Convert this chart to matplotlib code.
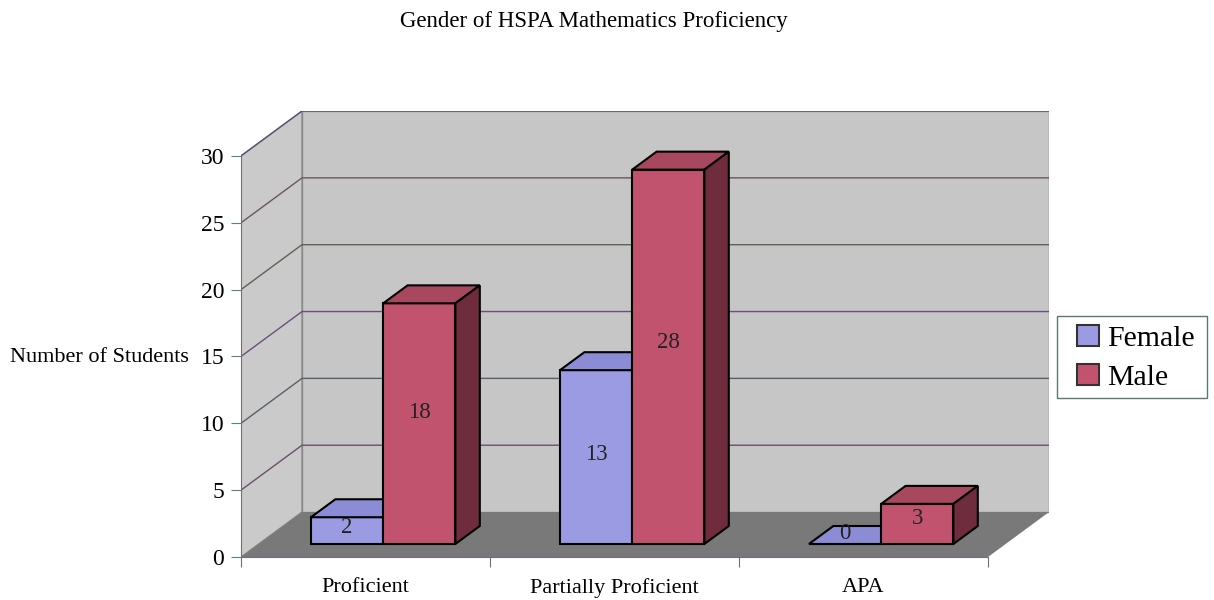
import matplotlib.pyplot as plt
from matplotlib.patches import Patch, Rectangle

categories = ["Proficient", "Partially Proficient", "APA"]
female = [2, 13, 0]
male = [18, 28, 3]
series_names = ["Female", "Male"]
yticks = [0, 5, 10, 15, 20, 25, 30]

plt.rcParams['font.family'] = ['Liberation Serif', 'DejaVu Serif']

# fake 3d: depth offsets in data units (x in categories, y in values)
DX, DY = 0.245, 3.36
D0, D1 = 0.29, 0.69  # bar front / back depth
YMAX = 30
NCAT = len(categories)


def proj(x, y, d):
    return x + d * DX, y + d * DY


def poly(ax, pts, **kw):
    xs = [p[0] for p in pts]
    ys = [p[1] for p in pts]
    return ax.fill(xs, ys, **kw)


fig = plt.figure(figsize=(12.14, 6), dpi=100)
ax = fig.add_axes([241 / 1214, 43 / 600, 808 / 1214, 446 / 600])
ax.set_xlim(0, NCAT + DX)
ax.set_ylim(0, YMAX + DY)
ax.patch.set_visible(False)

wall = '#c6c6c6'
edge = '#8a8a8a'
# back wall
poly(ax, [proj(0, 0, 1), proj(NCAT, 0, 1), proj(NCAT, YMAX, 1), proj(0, YMAX, 1)],
     facecolor=wall, edgecolor=edge, lw=1, zorder=0)
# side wall
poly(ax, [proj(0, 0, 0), proj(0, 0, 1), proj(0, YMAX, 1), proj(0, YMAX, 0)],
     facecolor='#cacaca', edgecolor=edge, lw=1, zorder=0)

# gridlines
grid_cols = ['#6b4f6b', '#55606a', '#6a4f7a', '#5a6450', '#6a5560', '#5d5078']
for k, yv in enumerate(yticks[1:]):
    c = grid_cols[k % len(grid_cols)]
    x0, y0 = proj(0, yv, 0)
    x1, y1 = proj(0, yv, 1)
    x2, y2 = proj(NCAT, yv, 1)
    ax.plot([x0, x1, x2], [y0, y1, y2], color=c, lw=1, zorder=0.5)

# floor
poly(ax, [proj(0, 0, 0), proj(NCAT, 0, 0), proj(NCAT, 0, 1), proj(0, 0, 1)],
     facecolor='#797979', edgecolor='none', zorder=0.6)

front_cols = ['#9b9be3', '#c2536e']
top_cols = ['#8c8cd6', '#a8485f']
side_cols = ['#6c6cb0', '#6e2c3c']
bw = 0.29
lefts = [0.21, 0.5]

z = 1
for i in range(NCAT):
    for s, vals in enumerate([female, male]):
        v = vals[i]
        l = i + lefts[s]
        r = l + bw
        ax.bar(l + D0 * DX, v, width=bw, bottom=D0 * DY, align='edge',
               color=front_cols[s], edgecolor='black', lw=1.5, zorder=z)
        poly(ax, [proj(l, v, D0), proj(r, v, D0), proj(r, v, D1), proj(l, v, D1)],
             facecolor=top_cols[s], edgecolor='black', lw=1.5, zorder=z)
        poly(ax, [proj(r, 0, D0), proj(r, v, D0), proj(r, v, D1), proj(r, 0, D1)],
             facecolor=side_cols[s], edgecolor='black', lw=1.5, zorder=z)
        tx = l + bw / 2 + D0 * DX
        if s == 0:
            ty = v / 2 + D0 * DY + 0.2 + (0.6 if v == 0 else 0)
        else:
            ty = v / 2 + D0 * DY + 0.35 + 0.025 * v
        ax.text(tx, ty, str(v), ha='center', va='center', fontsize=16.5,
                color='#222222', zorder=z + 0.5)
        z += 1

# axes styling
for sp in ['top', 'right']:
    ax.spines[sp].set_visible(False)
ax.spines['left'].set_bounds(0, YMAX)
ax.spines['bottom'].set_bounds(0, NCAT)
ax.spines['left'].set_color('#707070')
ax.spines['bottom'].set_color('#7a6a80')
ax.set_yticks(yticks)
ax.set_yticklabels([str(t) for t in yticks])
ax.set_xticks(range(NCAT + 1))
ax.set_xticklabels([])
ax.set_xticks([i + 0.5 for i in range(NCAT)], minor=True)
ax.set_xticklabels(categories, minor=True)
ax.tick_params(axis='y', length=7, color='#5a8a6a', labelsize=17, pad=5)
ax.tick_params(axis='x', which='major', length=7, color='#707070')
ax.tick_params(axis='x', which='minor', length=0, labelsize=16, pad=15)

fig.text(594 / 1214, 1 - 21 / 600, "Gender of HSPA Mathematics Proficiency",
         ha='center', va='center', fontsize=16.5)
fig.text(10 / 1214, 1 - 357 / 600, "Number of Students",
         ha='left', va='center', fontsize=16)

# legend: frame drawn separately so the padding can match
fig.patches.append(Rectangle((1057 / 1214, 1 - 398 / 600), 150 / 1214, 82 / 600,
                             transform=fig.transFigure, facecolor='white',
                             edgecolor='#5a7a6a', lw=1, zorder=2))
handles = [Patch(facecolor=front_cols[k], edgecolor='#333333', lw=1.5)
           for k in range(2)]
leg = fig.legend(handles, series_names, loc='center left',
                 bbox_to_anchor=(1077 / 1214, 1 - 358 / 600),
                 fontsize=21.5, frameon=False,
                 handlelength=0.72, handleheight=0.7, handletextpad=0.3,
                 labelspacing=0.38, borderpad=0, borderaxespad=0)
leg.set_zorder(3)

fig.savefig('out.png', dpi=100)
